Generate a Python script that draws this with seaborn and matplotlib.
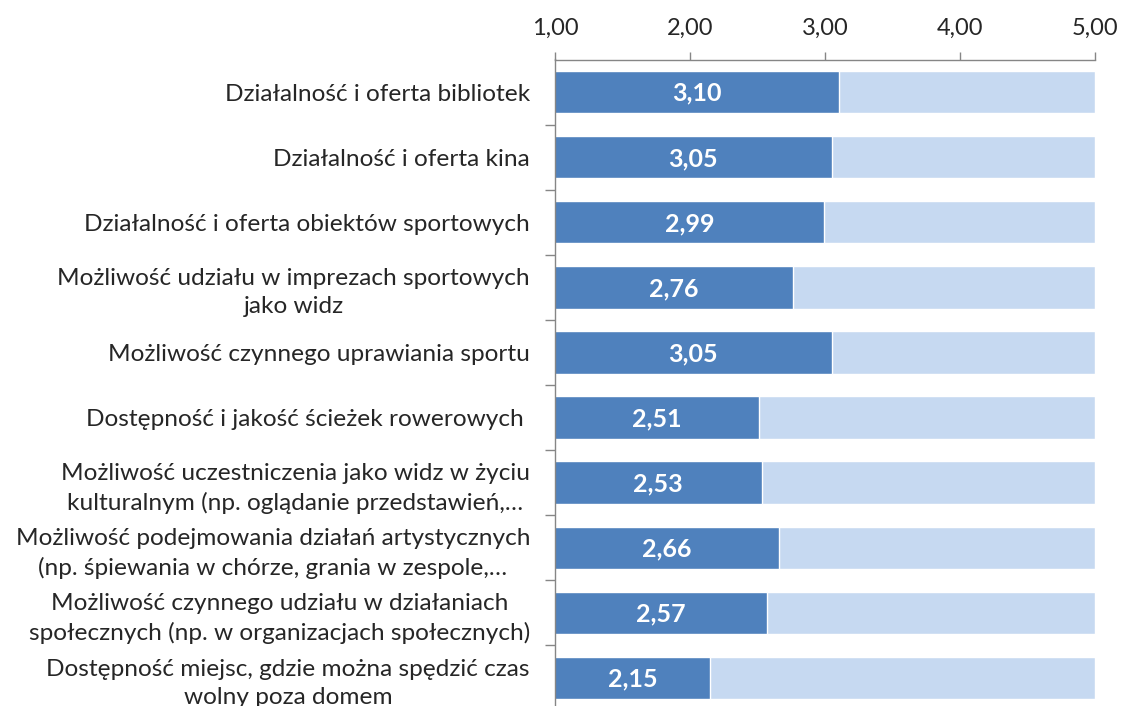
import matplotlib
matplotlib.use("Agg")
import matplotlib.pyplot as plt
import seaborn as sns
import pandas as pd
import numpy as np

categories = [
    "Działalność i oferta bibliotek",
    "Działalność i oferta kina",
    "Działalność i oferta obiektów sportowych",
    "Możliwość udziału w imprezach sportowych\njako widz",
    "Możliwość czynnego uprawiania sportu",
    "Dostępność i jakość ścieżek rowerowych ",
    "Możliwość uczestniczenia jako widz w życiu\nkulturalnym (np. oglądanie przedstawień,…",
    "Możliwość podejmowania działań artystycznych\n(np. śpiewania w chórze, grania w zespole,…",
    "Możliwość czynnego udziału w działaniach\nspołecznych (np. w organizacjach społecznych)",
    "Dostępność miejsc, gdzie można spędzić czas\nwolny poza domem",
]
scores = [3.10, 3.05, 2.99, 2.76, 3.05, 2.51, 2.53, 2.66, 2.57, 2.15]
scale_max = [5.0] * len(categories)
x_ticks = [1.0, 2.0, 3.0, 4.0, 5.0]

sns.set_style("white")
plt.rcParams["font.family"] = ["Lato", "DejaVu Sans"]

df = pd.DataFrame({"category": categories, "score": scores, "max": scale_max})

fig = plt.figure(figsize=(11.23, 7.06), dpi=100)
ax = fig.add_axes([555 / 1123, -4.5 / 706, 540 / 1123, 651 / 706])

dark = "#4F81BD"
light = "#C6D9F1"
sns.barplot(data=df, y="category", x="max", color=light, width=0.65,
            saturation=1, ax=ax, orient="h")
sns.barplot(data=df, y="category", x="score", color=dark, width=0.65,
            saturation=1, ax=ax, orient="h")

ax.set_xlim(1, 5)
ax.set_ylim(len(categories) - 0.5, -0.5)
ax.set_xlabel("")
ax.set_ylabel("")

for i, v in enumerate(scores):
    ax.text((1 + v) / 2, i + 0.02, f"{v:.2f}".replace(".", ","), ha="center",
            va="center", color="white", fontsize=18, fontweight="bold")

ax.xaxis.tick_top()
ax.set_xticks(x_ticks)
ax.set_xticklabels([f"{t:.2f}".replace(".", ",") for t in x_ticks], fontsize=17)
ax.tick_params(axis="x", top=True, length=6, width=1, color="#868686", pad=9)

ax.set_yticks(range(len(categories)))
ax.set_yticklabels(categories, fontsize=17.6, ha="right",
                   multialignment="center", linespacing=1.42)
ax.tick_params(axis="y", length=0, pad=18)
ax.set_yticks(np.arange(0.5, len(categories) - 0.5, 1), minor=True)
ax.tick_params(axis="y", which="minor", left=True, length=7, width=1,
               color="#868686")

for s in ["right", "bottom"]:
    ax.spines[s].set_visible(False)
for s in ["top", "left"]:
    ax.spines[s].set_color("#868686")
    ax.spines[s].set_linewidth(1)

fig.savefig("out.png", dpi=100)
